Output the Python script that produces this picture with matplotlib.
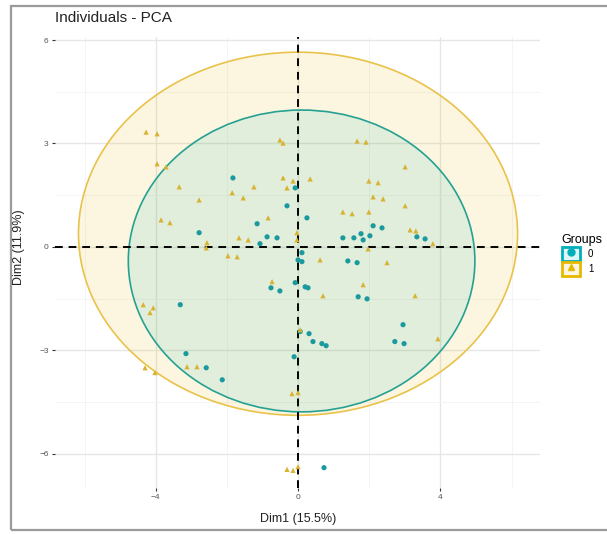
import numpy as np
import matplotlib
matplotlib.use('Agg')
import matplotlib.pyplot as plt
from matplotlib.patches import Ellipse, Patch, Rectangle
from matplotlib.lines import Line2D

plt.rcParams['font.family'] = ['Liberation Sans', 'DejaVu Sans']

# PCA scores, individuals split by group
dim1_g0 = [-1.83, -2.78, -1.15, -0.87, -0.59, -1.07, -0.08, -0.31, 0.25, 2.11,
           2.36, 1.26, 1.57, 1.77, 1.83, 2.02, 3.34, 3.57, 0.11, 0.11,
           0.00, -0.08, 0.20, 0.28, 1.40, 1.66, 1.69, 1.94, 2.95, 2.72,
           2.98, 0.06, 0.31, 0.42, 0.67, 0.79, -0.11, -3.31, -3.15, -2.58,
           -2.13, -0.76, -0.51, 0.73]
dim2_g0 = [2.00, 0.41, 0.67, 0.29, 0.26, 0.09, 1.71, 1.19, 0.84, 0.61,
           0.55, 0.26, 0.26, 0.38, 0.20, 0.32, 0.29, 0.23, -0.17, -0.43,
           -0.38, -1.04, -1.16, -1.19, -0.41, -0.46, -1.45, -1.51, -2.26, -2.75,
           -2.81, -2.46, -2.52, -2.75, -2.81, -2.87, -3.19, -1.68, -3.10, -3.51,
           -3.86, -1.19, -1.28, -6.41]

dim1_g1 = [-4.27, -3.96, -3.96, -3.71, -3.34, -2.78, -3.85, -3.60, -1.85, -1.54,
           -1.24, -0.84, -1.66, -1.40, -2.56, -2.58, -0.51, -0.42, -0.42, -0.14,
           -0.31, -0.03, -0.03, -1.97, -1.71, 1.66, 1.91, 3.01, 1.99, 2.25,
           2.11, 2.39, 3.01, 1.26, 1.52, 1.99, 0.34, 3.15, 3.31, 3.79,
           1.97, 0.62, 2.50, 1.83, 0.70, 3.29, 3.93, 0.06, 0.00, -4.35,
           -4.07, -4.16, -3.12, -2.84, -4.30, -4.02, -0.73, -0.17, -0.31, -0.14,
           0.00]
dim2_g1 = [3.33, 3.28, 2.41, 2.32, 1.74, 1.36, 0.78, 0.70, 1.57, 1.42,
           1.74, 0.84, 0.26, 0.20, 0.12, -0.03, 3.10, 3.01, 2.00, 1.91,
           1.71, 0.41, 0.20, -0.26, -0.29, 3.07, 3.04, 2.32, 1.91, 1.86,
           1.45, 1.39, 1.19, 1.01, 0.96, 1.01, 1.97, 0.49, 0.46, 0.09,
           -0.06, -0.38, -0.46, -1.10, -1.42, -1.42, -2.67, -2.41, -4.23, -1.68,
           -1.77, -1.91, -3.48, -3.48, -3.51, -3.65, -1.01, -4.26, -6.46, -6.49,
           -6.38]

# group ellipses: centre and semi-axes (Dim1, Dim2)
ell_g0 = (0.10, -0.41, 4.87, 4.38)
ell_g1 = (0.00, 0.38, 6.17, 5.27)

groups = ['0', '1']
colors = ['#00AFBB', '#E7B800']
point_colors = ['#1A9A9E', '#D8B230']
line_colors = ['#25A192', '#E9C24A']
markers = ['o', '^']

fig = plt.figure(figsize=(6.07, 5.34), dpi=100)
W, H = 607, 534
ax = fig.add_axes([55 / W, 1 - 488 / H, 485 / W, 451 / H])

ax.set_xlim(-6.83, 6.80)
ax.set_ylim(-7.0, 6.09)

# grid, drawn by hand to get ggplot-like major/minor lines
for v in [-6, -2, 2, 6]:
    ax.axvline(v, color='#f3f3f3', lw=0.6, zorder=0)
for v in [-4, 0, 4]:
    ax.axvline(v, color='#e6e6e6', lw=1.0, zorder=0)
for v in [-4.5, -1.5, 1.5, 4.5]:
    ax.axhline(v, color='#f3f3f3', lw=0.6, zorder=0)
for v in [-6, -3, 0, 3, 6]:
    ax.axhline(v, color='#e6e6e6', lw=1.0, zorder=0)

for (cx, cy, rx, ry), col, lc, a in [(ell_g1, colors[1], line_colors[1], 0.12),
                                     (ell_g0, colors[0], line_colors[0], 0.11)]:
    ax.add_patch(Ellipse((cx, cy), 2 * rx, 2 * ry, facecolor=col, alpha=a,
                         edgecolor='none', zorder=1))
    ax.add_patch(Ellipse((cx, cy), 2 * rx, 2 * ry, facecolor='none',
                         edgecolor=lc, lw=1.2, zorder=2))

ax.axhline(0, color='black', ls=(0, (4, 3)), lw=1.4, zorder=3)
ax.axvline(0, color='black', ls=(0, (4, 3)), lw=1.4, zorder=3)

ax.scatter(dim1_g0, dim2_g0, s=14, color=point_colors[0], marker='o',
           edgecolors='none', zorder=4)
ax.scatter(dim1_g1, dim2_g1, s=14, color=point_colors[1], marker='^',
           edgecolors='none', zorder=4)

ax.set_xticks([-4, 0, 4])
ax.set_yticks([-6, -3, 0, 3, 6])
ax.tick_params(length=2.5, width=0.8, color='#333333', labelsize=6,
               labelcolor='#555555', pad=2)
for s in ax.spines.values():
    s.set_visible(False)

fig.text(55 / W, 1 - 18 / H, 'Individuals - PCA', fontsize=11,
         ha='left', va='center', color='#222222')
fig.text(298 / W, 1 - 519 / H, 'Dim1 (15.5%)', fontsize=9,
         ha='center', va='center', color='#222222')
fig.text(19 / W, 1 - 247 / H, 'Dim2 (11.9%)', fontsize=9, rotation=90,
         ha='center', va='center', color='#222222')

handles = []
for col, lc, mk in zip(colors, line_colors, markers):
    handles.append((Patch(facecolor=col, alpha=0.12, edgecolor='none'),
                    Patch(facecolor='none', edgecolor=col, lw=2.0),
                    Line2D([], [], ls='none', marker=mk, color=col, markersize=5)))
fig.legend(handles, groups, title='Groups', loc='upper left',
           bbox_to_anchor=(555 / W, 1 - 227 / H), frameon=False,
           fontsize=7, title_fontsize=9, handlelength=1.9, handleheight=1.8,
           handletextpad=0.8, labelspacing=0.15, borderpad=0.2,
           alignment='left')

# frame around the whole image
fig.patches.append(Rectangle((11 / W, 4 / H), 1.2, 1 - 10 / H,
                             transform=fig.transFigure, fill=False,
                             edgecolor='#9a9a9a', lw=1.6))

fig.savefig('out.png', dpi=100)
